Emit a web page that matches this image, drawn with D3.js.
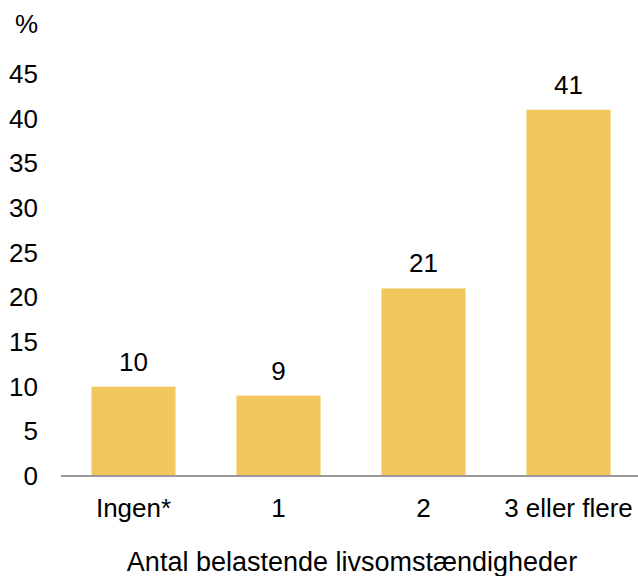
<!DOCTYPE html>
<html><head><meta charset="utf-8">
<script src="https://cdn.jsdelivr.net/npm/d3@7"></script>
<style>body{margin:0;background:#fff}svg{display:block}text{font-family:"Liberation Sans",Arial,sans-serif;fill:#000}</style>
</head><body><svg id="c" width="638" height="576"></svg>
<script>
const categories = ["Ingen*", "1", "2", "3 eller flere"];
const values = [10, 9, 21, 41];
const yTicks = [0, 5, 10, 15, 20, 25, 30, 35, 40, 45];
const yUnit = "%";
const xTitle = "Antal belastende livsomstændigheder";

const FS = 26;
const svg = d3.select("#c");
const x = d3.scaleBand().domain(categories).range([61, 641]).paddingInner(0.42).paddingOuter(0.21);
const y = d3.scaleLinear().domain([0, 45]).range([476, 74]);

svg.selectAll("rect.bar").data(values).join("rect")
  .attr("x", (d, i) => x(categories[i])).attr("width", x.bandwidth())
  .attr("y", d => y(d)).attr("height", d => y(0) - y(d))
  .attr("fill", "#F1C75E");

svg.append("line").attr("x1", 61).attr("x2", 638).attr("y1", y(0)).attr("y2", y(0))
  .attr("stroke", "#999").attr("stroke-width", 2);

svg.selectAll("text.yt").data(yTicks).join("text")
  .attr("x", 38).attr("y", d => y(d)).attr("dy", "0.35em").attr("text-anchor", "end")
  .attr("font-size", FS).text(d => d);

svg.append("text").attr("x", 38).attr("y", 24).attr("dy", "0.35em").attr("text-anchor", "end")
  .attr("font-size", FS).text(yUnit);

svg.selectAll("text.vl").data(values).join("text")
  .attr("x", (d, i) => x(categories[i]) + x.bandwidth() / 2).attr("y", d => y(d) - 16)
  .attr("text-anchor", "middle").attr("font-size", FS).text(d => d);

svg.selectAll("text.xl").data(categories).join("text")
  .attr("x", d => x(d) + x.bandwidth() / 2).attr("y", 517)
  .attr("text-anchor", "middle").attr("font-size", FS).text(d => d);

svg.append("text").attr("x", 352).attr("y", 571).attr("text-anchor", "middle")
  .attr("font-size", 27).text(xTitle);
</script></body></html>
